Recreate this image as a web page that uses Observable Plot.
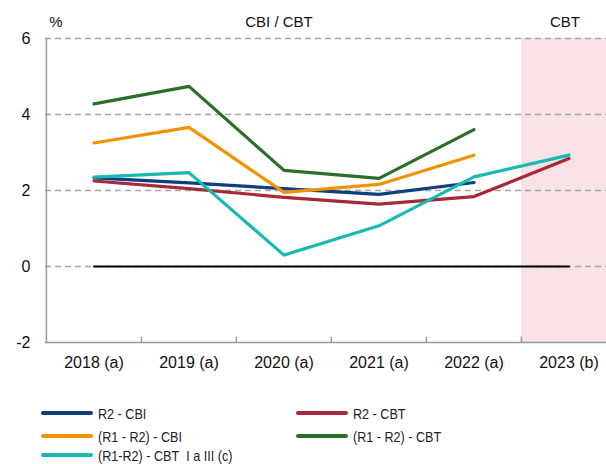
<!DOCTYPE html>
<html><head><meta charset="utf-8">
<script src="https://cdn.jsdelivr.net/npm/d3@7"></script>
<script src="https://cdn.jsdelivr.net/npm/@observablehq/plot@0.6"></script>
<style>
body{margin:0;background:#fff;font-family:"Liberation Sans",Arial,sans-serif;}
#wrap{position:relative;width:606px;height:464px;overflow:hidden;}
.leg{position:absolute;font-size:15px;color:#222;display:flex;align-items:center;white-space:nowrap;}
.sw{width:52px;height:4px;border-radius:2px;margin-right:5px;flex:none;}
.lt{display:inline-block;transform:scaleX(0.84);transform-origin:left center;}
</style></head>
<body><div id="wrap"><div id="chart"></div><div id="legend"></div></div>
<script>
const categories = ["2018 (a)","2019 (a)","2020 (a)","2021 (a)","2022 (a)","2023 (b)"];
const r2CBI      = [2.33, 2.20, 2.05, 1.90, 2.21, null];
const r2CBT      = [2.25, 2.05, 1.82, 1.64, 1.84, 2.84];
const r1r2CBI    = [3.25, 3.66, 1.95, 2.16, 2.93, null];
const r1r2CBT    = [4.28, 4.74, 2.53, 2.32, 3.60, null];
const r1r2CBTIaIII = [2.35, 2.47, 0.30, 1.07, 2.36, 2.93];
const yTicks = [-2, 0, 2, 4, 6];
const seriesNames = ["R2 - CBI","R2 - CBT","(R1 - R2) - CBI","(R1 - R2) - CBT","(R1-R2) - CBT  I a III (c)"];
const seriesColors = ["#0b3f80","#a8283a","#f39200","#2a6e27","#17b9b2"];
const seriesValues = [r2CBI, r2CBT, r1r2CBI, r1r2CBT, r1r2CBTIaIII];

const width = 606, height = 386, mL = 45, mR = -10, mT = 38, mB = 44;
const bw = (width - mL - mR) / categories.length;
const font = '"Liberation Sans",Arial,sans-serif';

const rows = [];
seriesValues.forEach((vals, s) => vals.forEach((v, i) => {
  if (v != null) rows.push({series: seriesNames[s], cat: categories[i], value: v});
}));

const lineMarks = seriesNames.map((name, s) =>
  Plot.line(rows.filter(r => r.series === name), {x: "cat", y: "value", stroke: seriesColors[s], strokeWidth: 3.2, strokeLinejoin: "round"})
);

const chart = Plot.plot({
  width, height, marginLeft: mL, marginRight: mR, marginTop: mT, marginBottom: mB,
  style: {fontFamily: font, background: "transparent", overflow: "visible"},
  x: {type: "band", domain: categories, padding: 0, label: null},
  y: {domain: [-2, 6], label: null},
  marks: [
    Plot.barY([categories[5]], {x: d => d, y1: -2, y2: 6, fill: "#f9e2e5"}),
    Plot.ruleY([0, 2, 4, 6], {stroke: "#a6a6a6", strokeWidth: 1.5, strokeDasharray: "6,4"}),
    Plot.ruleY([-2], {stroke: "#999", strokeWidth: 1.5}),
    Plot.ruleX([categories[0]], {dx: -bw / 2, y1: -2, y2: 6, stroke: "#999", strokeWidth: 1.5}),
    Plot.ruleX(categories.slice(1), {dx: -bw / 2, y1: -2, y2: -1.86, stroke: "#999", strokeWidth: 1.5}),
    Plot.line(categories, {x: d => d, y: () => 0, stroke: "#000", strokeWidth: 2}),
    ...lineMarks,
    Plot.axisY({ticks: yTicks, tickSize: 0, tickPadding: 15, fontSize: 16, tickFormat: d => String(d), fill: "#111", label: null}),
    Plot.axisX({tickSize: 0, tickPadding: 14, fontSize: 16, fill: "#111", label: null}),
    Plot.text(["%"], {x: () => categories[0], y: () => 6, dx: -38, dy: -16, fontSize: 15, fill: "#111"}),
    Plot.text(["CBI / CBT"], {x: () => categories[2], y: () => 6, dx: -5, dy: -16, fontSize: 15, fill: "#111"}),
    Plot.text(["CBT"], {x: () => categories[5], y: () => 6, dx: -4, dy: -16, fontSize: 15, fill: "#111"})
  ]
});
document.getElementById("chart").appendChild(chart);

const legendPos = [[41, 413], [296, 413], [41, 436], [296, 436], [41, 455]];
const lg = document.getElementById("legend");
seriesNames.forEach((name, s) => {
  const d = document.createElement("div");
  d.className = "leg";
  d.style.left = legendPos[s][0] + "px";
  d.style.top = (legendPos[s][1] - 9) + "px";
  d.style.height = "18px";
  d.innerHTML = `<span class="sw" style="background:${seriesColors[s]}"></span><span class="lt">${name.replace(/  /g, "&nbsp;&nbsp;")}</span>`;
  lg.appendChild(d);
});
</script></body></html>
